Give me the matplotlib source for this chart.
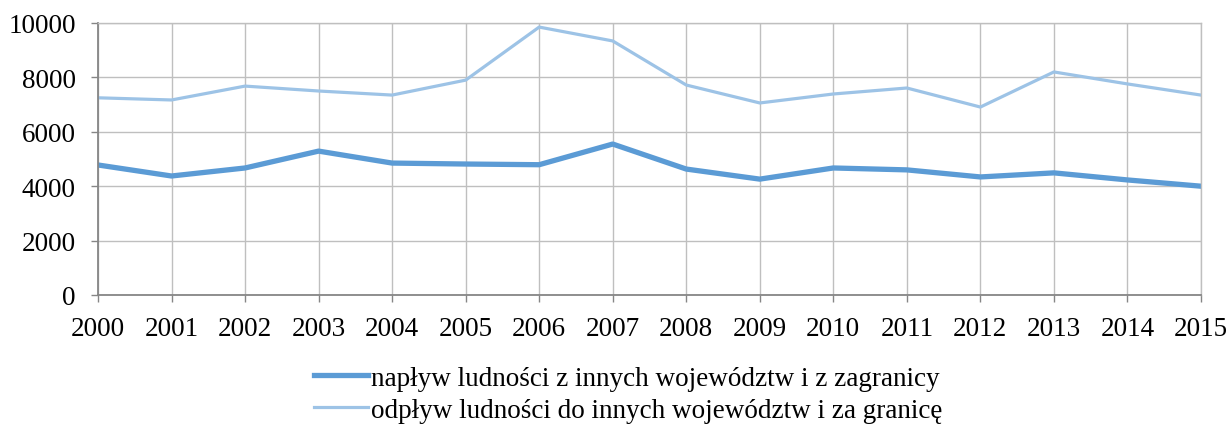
import matplotlib.pyplot as plt
import numpy as np

years = list(range(2000, 2016))
naplyw = [4780, 4375, 4670, 5290, 4850, 4815, 4790, 5550, 4630, 4260, 4670, 4600, 4340, 4490, 4230, 4000]
odplyw = [7250, 7170, 7680, 7500, 7350, 7900, 9850, 9340, 7720, 7060, 7390, 7610, 6910, 8200, 7760, 7350]
labels = ["napływ ludności z innych województw i z zagranicy",
          "odpływ ludności do innych województw i za granicę"]

plt.rcParams['font.family'] = ['Liberation Serif', 'DejaVu Serif']

fig = plt.figure(figsize=(12.31, 4.27), dpi=100)
ax = fig.add_axes([0.0796, 0.3068, 0.896, 0.637])

l1, = ax.plot(years, naplyw, color='#5B9BD5', linewidth=3.8, solid_joinstyle='round')
l2, = ax.plot(years, odplyw, color='#9DC3E6', linewidth=2.3, solid_joinstyle='round')

ax.set_xlim(2000, 2015)
ax.set_ylim(0, 10000)
ax.set_xticks(years)
ax.set_yticks(np.arange(0, 10001, 2000))
ax.grid(True, color='#BFBFBF', linewidth=1.0)
ax.set_axisbelow(True)

for s in ['top', 'right']:
    ax.spines[s].set_color('#BFBFBF')
    ax.spines[s].set_linewidth(1.0)
for s in ['left', 'bottom']:
    ax.spines[s].set_color('#868686')
    ax.spines[s].set_linewidth(1.3)

ax.tick_params(axis='both', labelsize=19.5, colors='#868686', labelcolor='black', length=5, width=1.0)
ax.tick_params(axis='x', pad=10)
ax.tick_params(axis='y', pad=11)

fig.legend([l1, l2], labels, loc='lower center', bbox_to_anchor=(0.51, -0.05), ncol=1,
           frameon=False, fontsize=19.5, handlelength=2.0, handletextpad=0.1,
           labelspacing=0.27)

fig.savefig('out.png', dpi=100)
